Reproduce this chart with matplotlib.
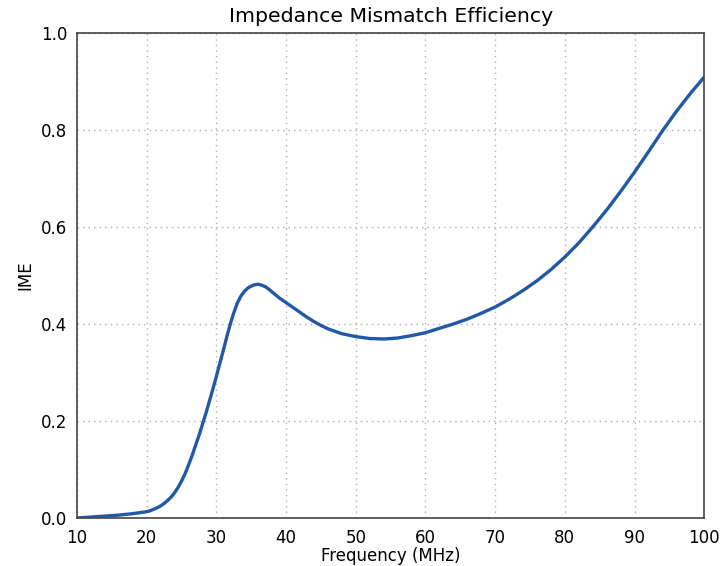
import matplotlib
matplotlib.use("Agg")
import matplotlib.pyplot as plt

freq_mhz = [10, 12, 14, 16, 18, 19, 20, 20.5, 21, 21.5, 22, 22.5, 23, 23.5, 24, 24.5, 25, 25.5,
            26, 26.5, 27, 27.5, 28, 28.5, 29, 29.5, 30, 30.5, 31, 31.5, 32, 32.5, 33, 33.5,
            34, 34.5, 35, 35.5, 36, 36.5, 37, 37.5, 38, 38.5, 39, 39.5, 40, 41, 42, 43, 44,
            45, 46, 47, 48, 50, 52, 54, 56, 58, 60, 62, 64, 66, 68, 70, 72, 74, 76, 78, 80,
            82, 84, 86, 88, 90, 92, 94, 96, 98, 100]
ime = [0.000, 0.002, 0.004, 0.006, 0.009, 0.011, 0.013, 0.015, 0.018, 0.021, 0.025, 0.030,
       0.036, 0.043, 0.052, 0.063, 0.076, 0.091, 0.109, 0.128, 0.149, 0.170, 0.193, 0.216,
       0.241, 0.266, 0.292, 0.319, 0.346, 0.374, 0.400, 0.423, 0.443, 0.457, 0.467, 0.474,
       0.478, 0.481, 0.482, 0.480, 0.477, 0.472, 0.466, 0.460, 0.454, 0.449, 0.444, 0.434,
       0.424, 0.414, 0.405, 0.397, 0.390, 0.385, 0.380, 0.374, 0.370, 0.369, 0.371, 0.376,
       0.382, 0.391, 0.400, 0.410, 0.422, 0.435, 0.451, 0.469, 0.489, 0.512, 0.538, 0.567,
       0.600, 0.635, 0.673, 0.713, 0.755, 0.798, 0.838, 0.875, 0.909]

x_ticks = [10, 20, 30, 40, 50, 60, 70, 80, 90, 100]
y_ticks = [0.0, 0.2, 0.4, 0.6, 0.8, 1.0]

fig = plt.figure(figsize=(7.23, 5.66), dpi=100)
ax = fig.add_axes([0.1065, 0.0848, 0.8675, 0.857])
ax.plot(freq_mhz, ime, color="#2159a8", lw=2.4, solid_capstyle="round",
        solid_joinstyle="round")
ax.set_xlim(10, 100)
ax.set_ylim(0, 1.0)
ax.set_xticks(x_ticks)
ax.set_yticks(y_ticks)
ax.set_yticklabels([f"{v:.1f}" for v in y_ticks])
ax.grid(True, color="#b0b0b0", linestyle=(0, (1, 3)), linewidth=1.0)
ax.tick_params(length=0, labelsize=12)
ax.tick_params(axis="x", pad=8)
ax.tick_params(axis="y", pad=7)
for s in ax.spines.values():
    s.set_color("#444444")
    s.set_linewidth(1.2)
ax.set_title("Impedance Mismatch Efficiency", fontsize=14.7, pad=8)
ax.set_xlabel("Frequency (MHz)", fontsize=12, labelpad=0)
ax.set_ylabel("IME", fontsize=12, labelpad=5)
fig.savefig("out.png", dpi=100)
